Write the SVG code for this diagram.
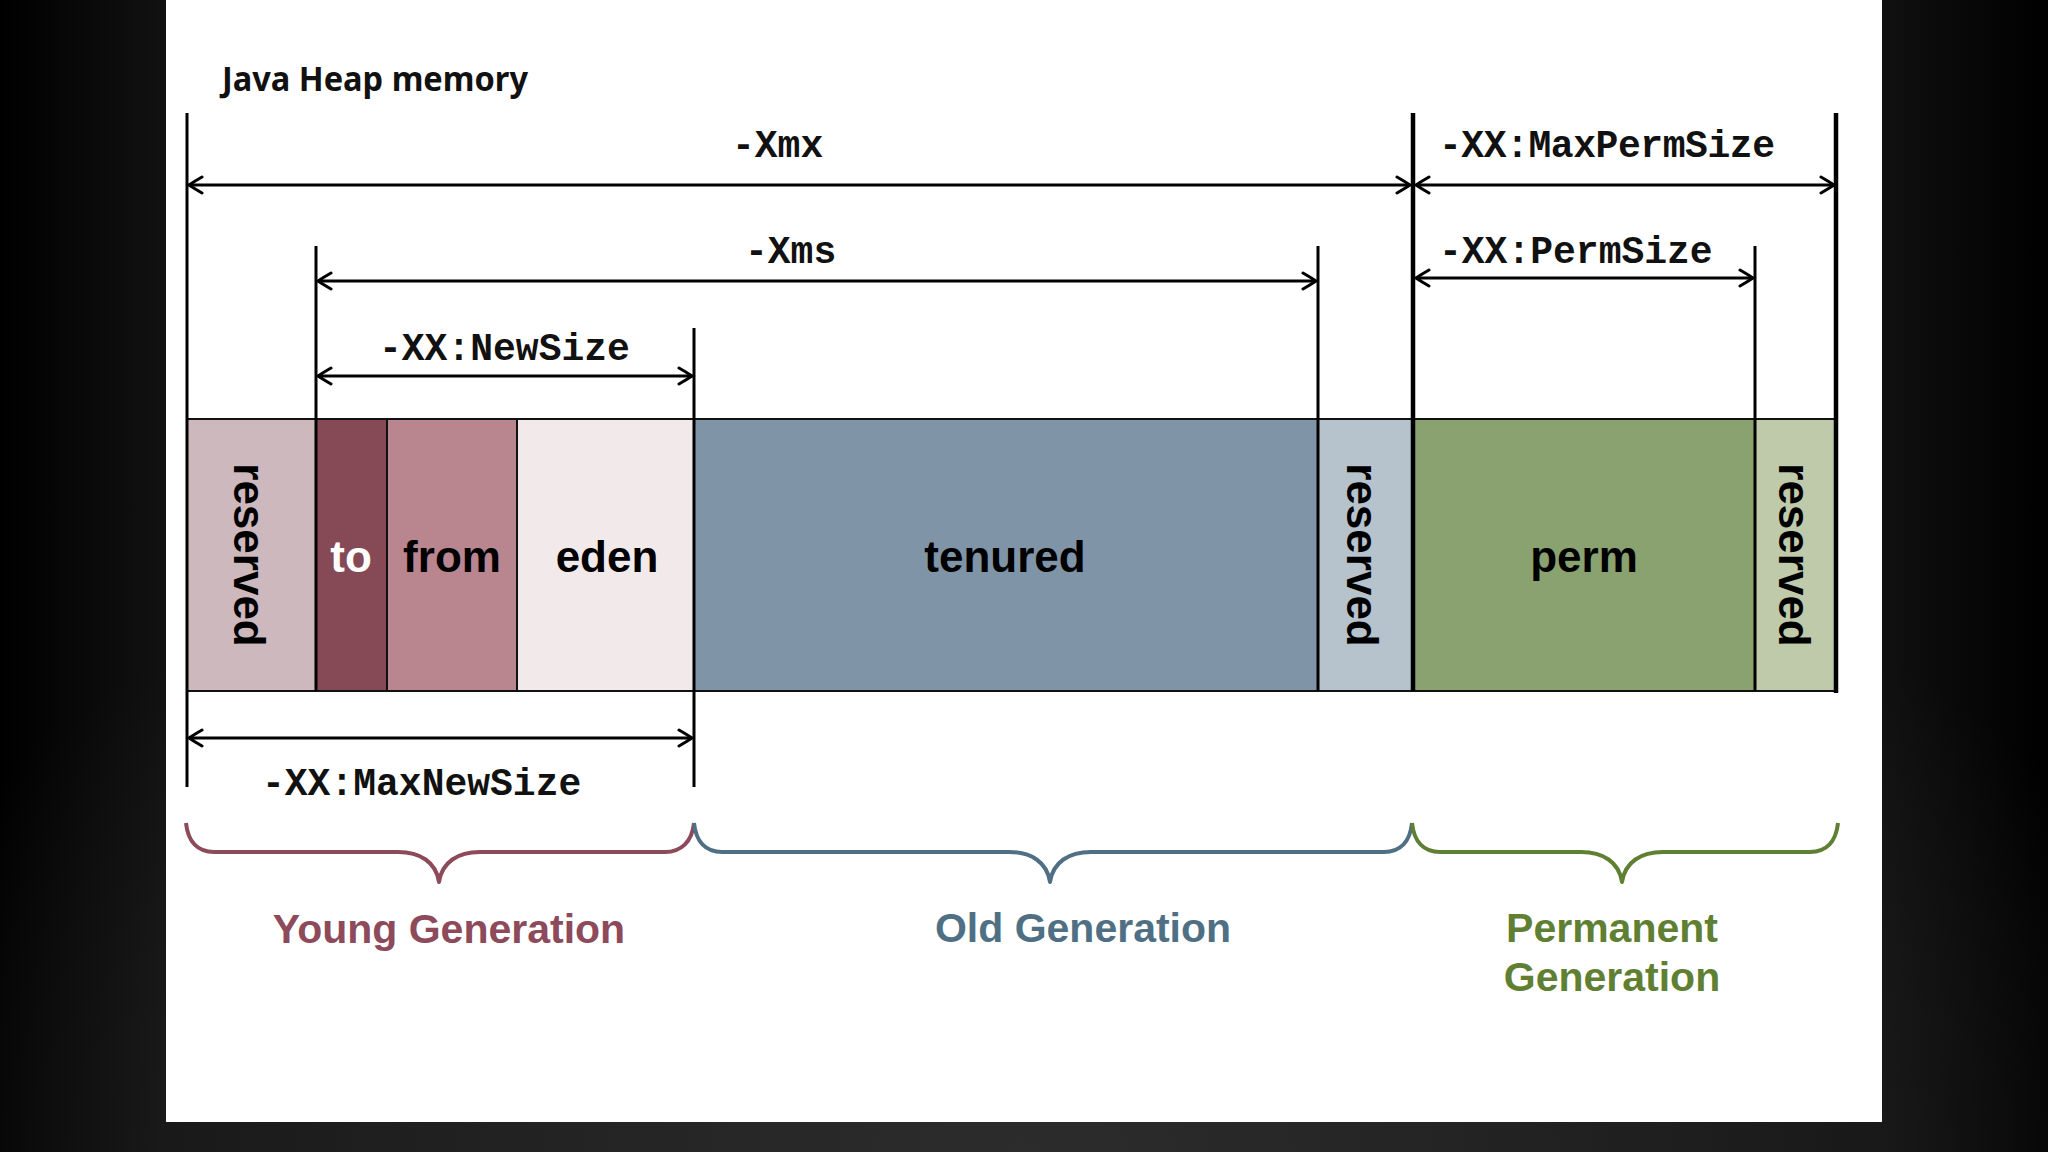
<svg xmlns="http://www.w3.org/2000/svg" width="2048" height="1152" viewBox="0 0 2048 1152">
  <defs>
    <linearGradient id="bgH" x1="0" y1="0" x2="1" y2="0">
      <stop offset="0" stop-color="#000"/>
      <stop offset="0.08" stop-color="#111"/>
      <stop offset="0.5" stop-color="#181818"/>
      <stop offset="0.92" stop-color="#101010"/>
      <stop offset="1" stop-color="#000"/>
    </linearGradient>
    <radialGradient id="bgB" cx="0.5" cy="1" r="0.6">
      <stop offset="0" stop-color="#2c2c2c" stop-opacity="1"/>
      <stop offset="1" stop-color="#2c2c2c" stop-opacity="0"/>
    </radialGradient>
    <marker id="ah" viewBox="0 0 16 20" refX="15" refY="10" markerWidth="16" markerHeight="20" markerUnits="userSpaceOnUse" orient="auto-start-reverse">
      <path d="M2,2 Q9,6 15,10 Q9,14 2,18" fill="none" stroke="#000" stroke-width="3" stroke-linecap="round"/>
    </marker>
    <style>
      .title { font-family: "Noto Sans", "Open Sans", sans-serif; font-weight: 700; font-size: 34px; fill: #111; }
      .dim { font-family: "Liberation Mono", "Courier New", monospace; font-weight: 700; font-size: 38px; fill: #111; }
      .cell { font-family: "Liberation Sans", Arial, sans-serif; font-weight: 700; font-size: 44px; fill: #000; text-anchor: middle; }
      .gen { font-family: "Liberation Sans", Arial, sans-serif; font-weight: 700; font-size: 41px; text-anchor: middle; }
      .sep { stroke: #000; stroke-width: 3; }
      .bold { stroke: #000; stroke-width: 4.5; }
      .thin { stroke: #111; stroke-width: 2; }
      .arrow { stroke: #000; stroke-width: 3; fill: none; marker-start: url(#ah); marker-end: url(#ah); }
      .brace { fill: none; stroke-width: 4; stroke-linejoin: round; }
    </style>
  </defs>

  <!-- background -->
  <rect x="0" y="0" width="2048" height="1152" fill="url(#bgH)"/>
  <rect x="0" y="0" width="2048" height="1152" fill="url(#bgB)"/>
  <rect x="166" y="0" width="1716" height="1122" fill="#ffffff"/>

  <text class="title" x="222" y="91" textLength="306" lengthAdjust="spacingAndGlyphs">Java Heap memory</text>

  <!-- heap cells -->
  <g id="reserved-young">
    <rect x="187" y="419" width="129" height="272" fill="#cdb8bd"/>
    <text class="cell" transform="translate(234,555) rotate(90)" x="0" y="0">reserved</text>
  </g>
  <g id="to">
    <rect x="316" y="419" width="71" height="272" fill="#864a56"/>
    <text class="cell" x="351" y="572" style="fill:#fff">to</text>
  </g>
  <g id="from">
    <rect x="387" y="419" width="130" height="272" fill="#b9858f"/>
    <text class="cell" x="452" y="572">from</text>
  </g>
  <g id="eden">
    <rect x="517" y="419" width="177" height="272" fill="#f2e9eb"/>
    <text class="cell" x="607" y="572">eden</text>
  </g>
  <g id="tenured">
    <rect x="694" y="419" width="624" height="272" fill="#7f95a7"/>
    <text class="cell" x="1005" y="572">tenured</text>
  </g>
  <g id="reserved-old">
    <rect x="1318" y="419" width="95" height="272" fill="#b6c3cd"/>
    <text class="cell" transform="translate(1347,555) rotate(90)" x="0" y="0">reserved</text>
  </g>
  <g id="perm">
    <rect x="1413" y="419" width="342" height="272" fill="#8aa170"/>
    <text class="cell" x="1584" y="572">perm</text>
  </g>
  <g id="reserved-perm">
    <rect x="1755" y="419" width="81" height="272" fill="#bfcaab"/>
    <text class="cell" transform="translate(1779,555) rotate(90)" x="0" y="0">reserved</text>
  </g>

  <!-- connectors: boundary lines, dimension arrows and their labels -->
  <g id="connectors">
    <line class="thin" x1="187" y1="419" x2="1836" y2="419"/>
    <line class="thin" x1="187" y1="691" x2="1836" y2="691"/>
    <line class="sep" x1="187" y1="113" x2="187" y2="787"/>
    <line class="sep" x1="316" y1="246" x2="316" y2="691"/>
    <line class="thin" x1="387" y1="419" x2="387" y2="691"/>
    <line class="thin" x1="517" y1="419" x2="517" y2="691"/>
    <line class="sep" x1="694" y1="328" x2="694" y2="787"/>
    <line class="sep" x1="1318" y1="246" x2="1318" y2="691"/>
    <line class="bold" x1="1413" y1="113" x2="1413" y2="691"/>
    <line class="sep" x1="1755" y1="246" x2="1755" y2="691"/>
    <line class="bold" x1="1836" y1="113" x2="1836" y2="693"/>

    <line class="arrow" x1="189" y1="185" x2="1410" y2="185"/>
    <line class="arrow" x1="1416" y1="185" x2="1834" y2="185"/>
    <line class="arrow" x1="318" y1="281" x2="1316" y2="281"/>
    <line class="arrow" x1="1416" y1="278" x2="1753" y2="278"/>
    <line class="arrow" x1="318" y1="376" x2="692" y2="376"/>
    <line class="arrow" x1="189" y1="738" x2="692" y2="738"/>

    <text class="dim" x="732" y="157">-Xmx</text>
    <text class="dim" x="1439" y="157" textLength="336">-XX:MaxPermSize</text>
    <text class="dim" x="745" y="263">-Xms</text>
    <text class="dim" x="1439" y="263">-XX:PermSize</text>
    <text class="dim" x="379" y="360">-XX:NewSize</text>
    <text class="dim" x="262" y="795">-XX:MaxNewSize</text>
  </g>

  <!-- generation braces -->
  <g id="young-generation">
    <path class="brace" stroke="#8c4a5b" d="M186,823 C188,842 198,852 214,852 L398,852 C420,852 436,862 439,882 C442,862 458,852 480,852 L665,852 C681,852 692,842 694,823"/>
    <text class="gen" x="449" y="943" fill="#8c4a5b">Young Generation</text>
  </g>
  <g id="old-generation">
    <path class="brace" stroke="#4f7084" d="M694,823 C696,842 706,852 722,852 L1009,852 C1031,852 1047,862 1050,882 C1053,862 1069,852 1091,852 L1384,852 C1400,852 1410,842 1412,823"/>
    <text class="gen" x="1083" y="942" fill="#4f7084">Old Generation</text>
  </g>
  <g id="permanent-generation">
    <path class="brace" stroke="#5f7f33" d="M1412,823 C1414,842 1424,852 1440,852 L1581,852 C1603,852 1619,862 1622,882 C1625,862 1641,852 1663,852 L1810,852 C1826,852 1836,842 1838,823"/>
    <text class="gen" x="1612" y="942" fill="#5f7f33">Permanent</text>
    <text class="gen" x="1612" y="991" fill="#5f7f33">Generation</text>
  </g>
</svg>
